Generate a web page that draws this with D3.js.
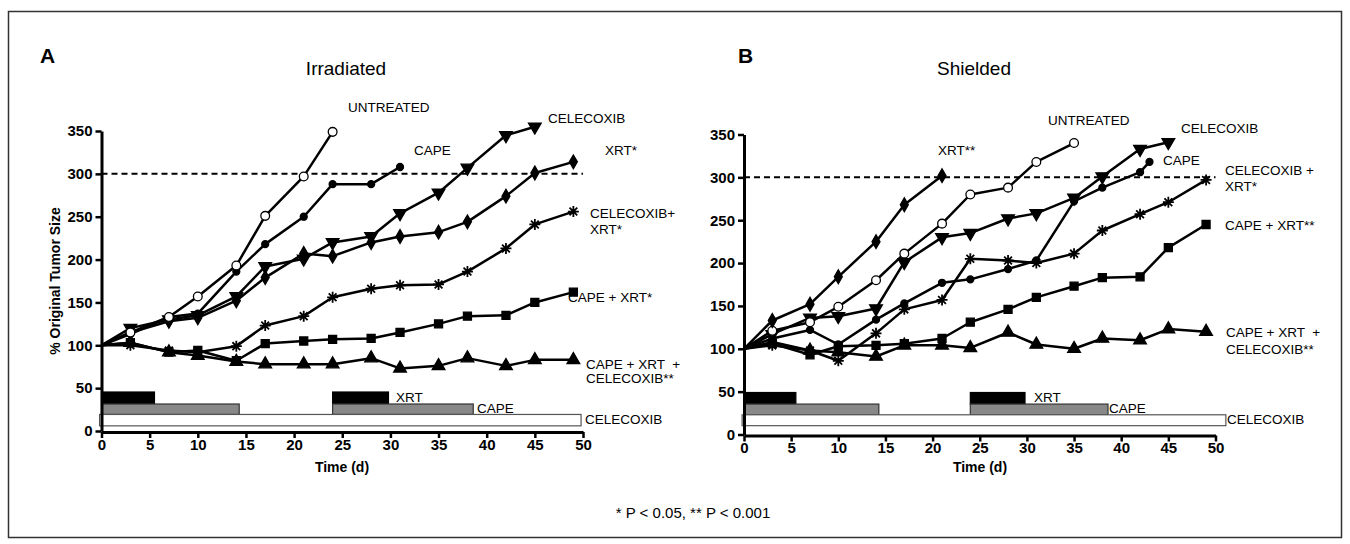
<!DOCTYPE html>
<html>
<head>
<meta charset="utf-8">
<script src="https://cdn.jsdelivr.net/npm/d3@7"></script>
<style>
  body { margin: 0; background: #fff; }
  svg { display: block; font-family: "Liberation Sans", Arial, Helvetica, sans-serif; }
  .tick text { font-weight: bold; font-size: 15px; }
  .lbl { font-size: 13.5px; }
</style>
</head>
<body>
<svg id="chart" width="1350" height="544"></svg>
<script>
// days of measurement
const days = [0, 3, 7, 10, 14, 17, 21, 24, 28, 31, 35, 38, 42, 45, 49];
const yTicks = [0, 50, 100, 150, 200, 250, 300, 350];
const xTicks = [0, 5, 10, 15, 20, 25, 30, 35, 40, 45, 50];
const threshold = 300;

// panel A - irradiated tumours
const irrUntreated = [100, 115, 133, 157, 193, 251, 297, 349];
const irrCape = [100, 113, 133, 137, 186, 218, 250, 288, 288, 308];
const irrCelecoxib = [100, 120, 130, 135, 157, 192, 201, 220, 227, 254, 278, 307, 345, 355];
const irrXrt = [100, 115, 128, 132, 152, 179, 207, 204, 220, 227, 232, 244, 274, 301, 314];
const irrCelXrt = [100, 100, 94, 92, 99, 123, 134, 156, 166, 170, 171, 186, 213, 241, 256];
const irrCapeXrt = [100, 103, 92, 94, 82, 102, 105, 107, 108, 115, 125, 134, 135, 150, 162];
const irrTriple = [100, 103, 92, 88, 81, 78, 78, 78, 85, 73, 76, 85, 76, 83, 83];

// panel B - shielded tumours
const shUntreated = [100, 121, 131, 149, 180, 211, 246, 280, 288, 318, 340];
const shCapeDays = [0, 3, 7, 10, 14, 17, 21, 24, 28, 31, 35, 38, 42, 43];
const shCape = [100, 112, 122, 105, 134, 153, 177, 181, 193, 203, 272, 288, 306, 318];
const shCelecoxib = [100, 117, 136, 138, 147, 201, 230, 235, 252, 258, 276, 301, 333, 341];
const shXrt = [100, 133, 152, 184, 225, 268, 302];
const shCelXrt = [100, 104, 98, 86, 118, 146, 157, 205, 203, 200, 211, 238, 257, 271, 297];
const shCapeXrt = [100, 106, 93, 103, 104, 106, 112, 131, 146, 160, 173, 183, 184, 218, 245];
const shTriple = [100, 108, 98, 96, 91, 104, 104, 101, 119, 105, 100, 112, 110, 123, 120];

// treatment schedule (days)
const xrtCourses = [[0, 5.5], [24, 29.8]];
const capeCourses = [[0, 14.3], [24, 38.6]];
const celecoxibCourseA = [[-0.2, 49.8]];
const celecoxibCourseB = [[-0.2, 51.1]];

const svg = d3.select('#chart');

// frame
svg.append('rect')
   .attr('x', 8.5).attr('y', 11.5)
   .attr('width', 1333).attr('height', 526)
   .attr('fill', 'none').attr('stroke', '#333').attr('stroke-width', 1.5);

// marker shapes
const sym = (type, size) => d3.symbol().type(type).size(size)();
function asterisk(r) {
  let p = '';
  for (let i = 0; i < 4; i++) {
    const a = i * Math.PI / 4;
    const dx = r * Math.sin(a), dy = r * Math.cos(a);
    p += `M${-dx},${-dy}L${dx},${dy}`;
  }
  return p;
}

const markers = {
  openCircle: {d: sym(d3.symbolCircle, 60), fill: '#fff', rot: 0},
  dot: {d: sym(d3.symbolCircle, 38), fill: '#000', rot: 0},
  invTri: {d: sym(d3.symbolTriangle, 70), fill: '#000', rot: 180},
  diamond: {d: sym(d3.symbolDiamond, 55), fill: '#000', rot: 0},
  star: {d: asterisk(5.5), fill: 'none', rot: 0},
  square: {d: sym(d3.symbolSquare, 64), fill: '#000', rot: 0},
  tri: {d: sym(d3.symbolTriangle, 70), fill: '#000', rot: 0}
};

const panels = [
  {
    letter: 'B', title: 'Shielded', letterX: 738, titleX: 974,
    xRange: [744, 1215.5], yRange: [434.5, 134.5], bars: [49, 35.5, 23, 10.3],
    celecoxibCourse: celecoxibCourseB, titleAxisX: 980,
    series: [
      {days: days, values: shTriple, m: 'tri'},
      {days: days, values: shCapeXrt, m: 'square'},
      {days: days, values: shCelXrt, m: 'star'},
      {days: shCapeDays, values: shCape, m: 'dot'},
      {days: days, values: shCelecoxib, m: 'invTri'},
      {days: days, values: shUntreated, m: 'openCircle'},
      {days: days, values: shXrt, m: 'diamond'}
    ],
    labels: [
      ['XRT**', 938, 155], ['UNTREATED', 1048, 125], ['CELECOXIB', 1181, 133],
      ['CAPE', 1163, 165], ['CELECOXIB +', 1225, 175], ['XRT*', 1225, 191],
      ['CAPE + XRT**', 1225, 230], ['CAPE + XRT  +', 1226, 337], ['CELECOXIB**', 1226, 354]
    ],
    barLabels: [['XRT', 1034, 402], ['CAPE', 1109, 413], ['CELECOXIB', 1227, 424]]
  },
  {
    letter: 'A', title: 'Irradiated', letterX: 40, titleX: 346,
    xRange: [101.5, 583], yRange: [431, 131], bars: [45.5, 31.5, 19.3, 6],
    celecoxibCourse: celecoxibCourseA, titleAxisX: 342,
    series: [
      {days: days, values: irrTriple, m: 'tri'},
      {days: days, values: irrCapeXrt, m: 'square'},
      {days: days, values: irrCelXrt, m: 'star'},
      {days: days, values: irrXrt, m: 'diamond'},
      {days: days, values: irrCelecoxib, m: 'invTri'},
      {days: days, values: irrCape, m: 'dot'},
      {days: days, values: irrUntreated, m: 'openCircle'}
    ],
    labels: [
      ['UNTREATED', 348, 112], ['CELECOXIB', 548, 123], ['CAPE', 414, 155],
      ['XRT*', 605, 155], ['CELECOXIB+', 590, 218], ['XRT*', 590, 234],
      ['CAPE + XRT*', 568, 302], ['CAPE + XRT  +', 586, 369], ['CELECOXIB**', 586, 383]
    ],
    barLabels: [['XRT', 396, 402], ['CAPE', 477, 413], ['CELECOXIB', 585, 424]]
  }
];

panels.forEach(p => {
  const x = d3.scaleLinear().domain([0, 50]).range(p.xRange);
  const y = d3.scaleLinear().domain([0, 350]).range(p.yRange);
  const g = svg.append('g');

  // panel letter and title
  g.append('text').attr('x', p.letterX).attr('y', 63)
   .attr('font-size', 21).attr('font-weight', 'bold').text(p.letter);
  g.append('text').attr('x', p.titleX).attr('y', 75).attr('text-anchor', 'middle')
   .attr('font-size', 19).text(p.title);

  // treatment bars
  const rows = [
    {courses: xrtCourses, top: p.bars[0], bot: p.bars[1], fill: '#000', stroke: '#000'},
    {courses: capeCourses, top: p.bars[1], bot: p.bars[2], fill: '#888', stroke: '#333'},
    {courses: p.celecoxibCourse, top: p.bars[2], bot: p.bars[3], fill: '#fff', stroke: '#555'}
  ];
  rows.forEach(r => {
    g.selectAll(null).data(r.courses).enter().append('rect')
     .attr('x', d => x(d[0]))
     .attr('y', y(r.top))
     .attr('width', d => x(d[1]) - x(d[0]))
     .attr('height', y(r.bot) - y(r.top))
     .attr('fill', r.fill).attr('stroke', r.stroke).attr('stroke-width', 1.2);
  });
  g.selectAll(null).data(p.barLabels).enter().append('text')
   .attr('class', 'lbl').attr('x', d => d[1]).attr('y', d => d[2]).text(d => d[0]);

  // threshold line
  g.append('line')
   .attr('x1', x(0)).attr('x2', x(50))
   .attr('y1', y(threshold)).attr('y2', y(threshold))
   .attr('stroke', '#000').attr('stroke-width', 2).attr('stroke-dasharray', '6,4');

  // axes
  const yAxis = g.append('g').attr('transform', `translate(${x(0)},0)`)
    .call(d3.axisLeft(y).tickValues(yTicks).tickSize(6).tickSizeOuter(0).tickPadding(3));
  const xAxis = g.append('g').attr('transform', `translate(0,${y(0) + 1})`)
    .call(d3.axisBottom(x).tickValues(xTicks).tickSize(6).tickSizeOuter(0).tickPadding(1));
  [xAxis, yAxis].forEach(a => {
    a.select('.domain').attr('stroke-width', 3);
    a.selectAll('.tick line').attr('stroke-width', 2.5);
    a.selectAll('.tick text').attr('fill', '#000');
  });

  g.append('text').attr('x', p.titleAxisX).attr('y', 472).attr('text-anchor', 'middle')
   .attr('font-size', 14).attr('font-weight', 'bold').text('Time (d)');

  // series
  const line = d3.line().x(d => x(d[0])).y(d => y(d[1]));
  p.series.forEach(s => {
    const pts = s.values.map((v, i) => [s.days[i], v]);
    g.append('path').attr('d', line(pts))
     .attr('fill', 'none').attr('stroke', '#000').attr('stroke-width', 2.5)
     .attr('stroke-linejoin', 'round');
    const mk = markers[s.m];
    g.selectAll(null).data(pts.slice(1)).enter().append('path')
     .attr('d', mk.d)
     .attr('transform', d => `translate(${x(d[0])},${y(d[1])}) rotate(${mk.rot})`)
     .attr('fill', mk.fill).attr('stroke', '#000')
     .attr('stroke-width', s.m === 'star' ? 1.8 : 1.3);
  });

  // series labels
  g.selectAll(null).data(p.labels).enter().append('text')
   .attr('class', 'lbl').attr('x', d => d[1]).attr('y', d => d[2])
   .attr('xml:space', 'preserve').style('white-space', 'pre').text(d => d[0]);
});

// y axis title (panel A)
svg.append('text')
   .attr('transform', 'translate(60,281) rotate(-90)')
   .attr('text-anchor', 'middle').attr('font-size', 14).attr('font-weight', 'bold')
   .text('% Original Tumor Size');

// footnote
svg.append('text').attr('x', 693).attr('y', 518).attr('text-anchor', 'middle')
   .attr('font-size', 15).text('* P < 0.05, ** P < 0.001');
</script>
</body>
</html>
